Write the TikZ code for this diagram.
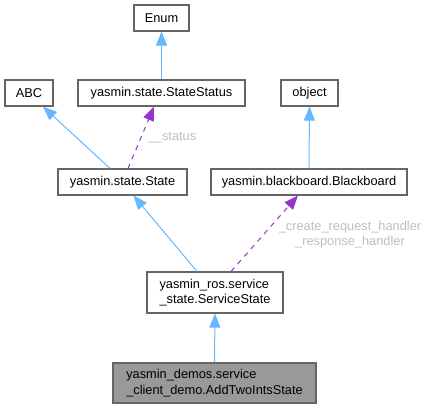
\documentclass[tikz,border=0pt]{standalone}
\usepackage{fontspec}
\setmainfont{Liberation Sans}
\usetikzlibrary{arrows.meta}
\definecolor{edgeblue}{HTML}{63B8FF}
\definecolor{edgepurple}{HTML}{9A32CD}
\definecolor{boxborder}{HTML}{666666}
\definecolor{boxfill}{HTML}{999999}
\definecolor{labelgrey}{HTML}{BEBEBE}
\tikzset{
  cls/.style={draw=boxborder, line width=1.1pt, fill=white, inner sep=0pt, align=left,
    font=\fontsize{12.8}{15.5}\selectfont, text=black},
  hl/.style={cls, fill=boxfill},
  inherit/.style={draw=edgeblue, line width=1pt, -{Triangle[length=14pt,width=11pt]}},
  usage/.style={draw=edgepurple, line width=1pt, dash pattern=on 5pt off 5pt, -{Triangle[length=14pt,width=11pt]}},
  elabel/.style={text=labelgrey, font=\fontsize{12.8}{15}\selectfont, inner sep=0pt, align=center},
}
\begin{document}
\begin{tikzpicture}[x=1pt,y=-1pt]
\useasboundingbox (0,0) rectangle (427,409);
\node[cls, minimum width=55pt, minimum height=26pt] (enum) at (161.5,18) {Enum};
\node[cls, minimum width=48pt, minimum height=26pt] (abc) at (29,93) {ABC};
\node[cls, minimum width=167pt, minimum height=26pt] (status) at (161.5,93) {yasmin.state.StateStatus};
\node[cls, minimum width=57pt, minimum height=26pt] (object) at (309.5,93) {object};
\node[cls, minimum width=129pt, minimum height=26pt] (state) at (122.5,182) {yasmin.state.State};
\node[cls, minimum width=196pt, minimum height=26pt] (bb) at (309,182) {yasmin.blackboard.Blackboard};
\node[cls, minimum width=136pt, minimum height=41pt] (srv) at (215,292.5) {yasmin\_ros.service\\\_state.ServiceState};
\node[hl, minimum width=203pt, minimum height=40pt] (add) at (214.5,383) {yasmin\_demos.service\\\_client\_demo.AddTwoIntsState};

\draw[inherit] (status.north) -- (enum.south);
\draw[inherit] (bb.north) -- (object.south);
\draw[inherit] ([xshift=-12.5pt]state.north) -- ([xshift=14pt]abc.south);
\draw[usage] ([xshift=5.5pt]state.north) -- ([xshift=-7.5pt]status.south);
\draw[inherit] ([xshift=-18pt]srv.north) -- ([xshift=11pt]state.south);
\draw[usage] ([xshift=16pt]srv.north) -- ([xshift=-11pt]bb.south);
\draw[inherit] (add.north) -- (srv.south);

\node[elabel] (lstatus) at (172,138) {\_\_status};
\node[elabel] (lhandler) at (350,234.5) {\_create\_request\_handler\\\_response\_handler};
\end{tikzpicture}
\end{document}
